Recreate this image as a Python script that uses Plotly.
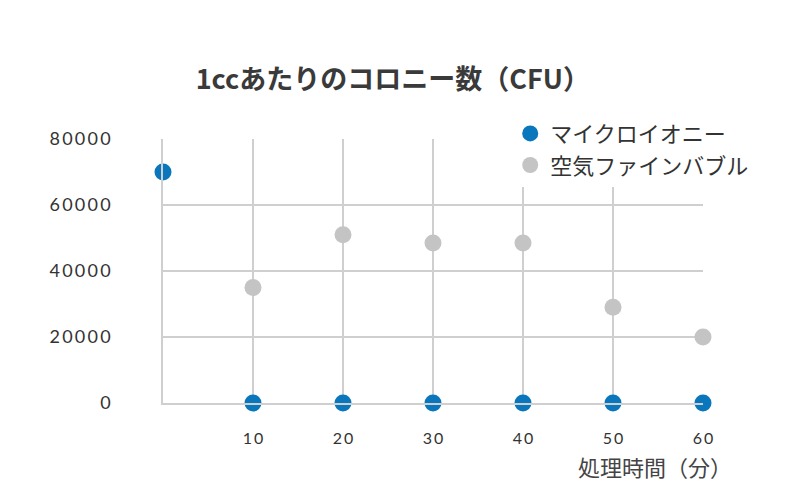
import plotly.graph_objects as go

micro_x = [0, 10, 20, 30, 40, 50, 60]
micro_y = [70000, 0, 0, 0, 0, 0, 0]
air_x = [10, 20, 30, 40, 50, 60]
air_y = [35000, 51000, 48500, 48500, 29000, 20000]
x_ticks = [10, 20, 30, 40, 50, 60]
y_ticks = [0, 20000, 40000, 60000, 80000]

title = "1ccあたりのコロニー数（CFU）"
series_names = ["マイクロイオニー", "空気ファインバブル"]
x_title = "処理時間（分）"

JP = "Noto Sans CJK JP"
NUM = "Lato"
SP = "\u2009"

fig = go.Figure()
fig.add_trace(go.Scatter(x=air_x, y=air_y, mode="markers", name=series_names[1],
                         marker=dict(size=17, color="#c4c4c4"), cliponaxis=False))
fig.add_trace(go.Scatter(x=micro_x, y=micro_y, mode="markers", name=series_names[0],
                         marker=dict(size=17, color="#0a76bb"), cliponaxis=False))

fig.update_layout(
    width=800, height=500,
    paper_bgcolor="white", plot_bgcolor="white",
    margin=dict(l=163, r=97, t=139, b=97),
    title=dict(text=title, x=0.491, xanchor="center", y=0.84, yanchor="middle",
               font=dict(family=JP, size=27, color="#3a3a3a", weight="bold")),
    legend=dict(x=0.643, y=1.10, xanchor="left", yanchor="top", bgcolor="white",
                traceorder="reversed",
                font=dict(family=JP, size=22, color="#333"),
                itemsizing="trace", tracegroupgap=0),
    showlegend=True,
)
fig.update_xaxes(range=[0, 60], tickvals=x_ticks,
                 ticktext=[SP.join(str(v)) for v in x_ticks],
                 showgrid=True, gridcolor="#cfcfcf", gridwidth=1.5,
                 showline=True, linecolor="#cfcfcf", linewidth=1.5, zeroline=False,
                 ticks="", ticklabelstandoff=20,
                 tickfont=dict(family=NUM, size=16, color="#333"))
fig.update_yaxes(range=[0, 80000], tickvals=y_ticks,
                 ticktext=[SP.join(str(v)) for v in y_ticks],
                 showgrid=True, gridcolor="#cfcfcf", gridwidth=1.5,
                 showline=True, linecolor="#cfcfcf", linewidth=1.5, zeroline=False,
                 ticks="", ticklabelstandoff=47,
                 tickfont=dict(family=NUM, size=18, color="#333"))

fig.add_annotation(text=x_title, xref="paper", yref="paper", x=1.057, y=-0.24,
                   xanchor="right", yanchor="middle", showarrow=False,
                   font=dict(family=JP, size=22, color="#444"))
fig.write_html("out.html")
